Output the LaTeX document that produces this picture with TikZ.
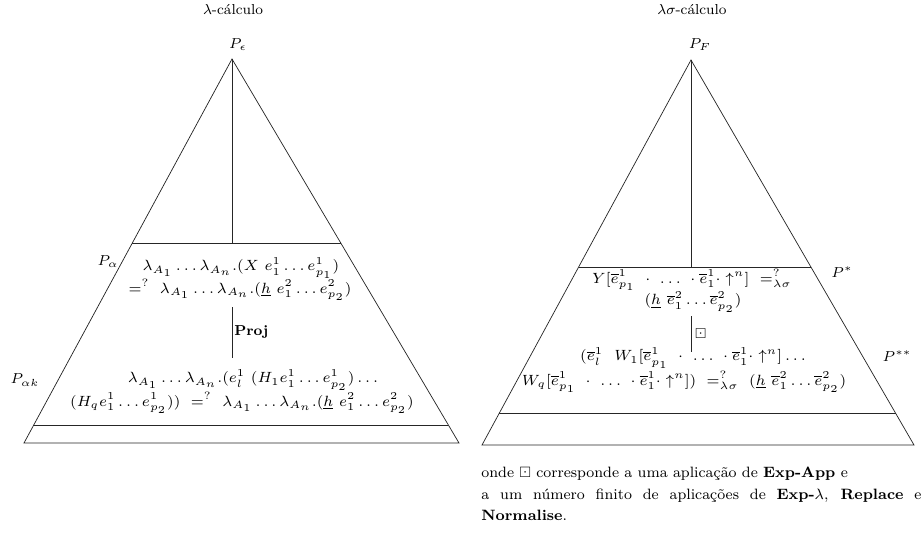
\documentclass[tikz,border=0pt]{standalone}
\usepackage{amsmath}
\usepackage{amssymb}
\usepackage{fontspec}
\usetikzlibrary{positioning, calc}

\begin{document}
\begin{tikzpicture}[
        x=0.0244cm, y=-0.0244cm,
        borda/.style={draw=black!85, line width=0.5pt},
        rotulo/.style={inner sep=1pt, font=\scriptsize, scale=1.4286},
        termo/.style={inner sep=1pt, align=center, font=\scriptsize, scale=1.47},
        titulo/.style={inner sep=1pt, font=\footnotesize, scale=1.25}
    ]
\useasboundingbox (0,0) rectangle (924,543);

% --- Triangulo do lambda-calculo ---
        \node[titulo] (tituloL) at (233,10) {$\lambda$-cálculo};
        \coordinate (topoL) at (232,59);
        \coordinate (esqL) at (24,443);
        \coordinate (dirL) at (459,443);
        \draw[borda] (esqL) -- (topoL) -- (dirL) -- cycle;
        \node[rotulo] (Peps) at (238,45) {$P_\epsilon$};

        \coordinate (alfaE) at ($(topoL)!0.479!(esqL)$);
        \coordinate (alfaD) at ($(topoL)!0.479!(dirL)$);
        \coordinate (fimE) at ($(topoL)!0.953!(esqL)$);
        \coordinate (fimD) at ($(topoL)!0.953!(dirL)$);
        \draw[borda] (alfaE) -- (alfaD);
        \draw[borda] (fimE) -- (fimD);
        \draw[borda] (topoL) -- (topoL |- alfaE);

        \node[rotulo] (Palfa) at (108,262) {$P_\alpha$};
        \node[termo] (alfa1) at (241,268)
            {$\lambda_{A_1}\ldots\lambda_{A_n}.(X\ e^1_1\ldots e^1_{p_1})$};
        \node[termo] (alfa2) at (240,290)
            {$=^{?}\ \lambda_{A_1}\ldots\lambda_{A_n}.(\underline{h}\ e^2_1\ldots e^2_{p_2})$};

        \coordinate (projA) at (232,307);
        \coordinate (projB) at (232,358);
        \draw[borda] (projA) -- node[titulo, right] (proj) {\textbf{Proj}} (projB);

        \node[rotulo] (Palfak) at (25,380) {$P_{\alpha k}$};
        \node[termo] (alfak1) at (253,380)
            {$\lambda_{A_1}\ldots\lambda_{A_n}.(e^1_l\ (H_1 e^1_1\ldots e^1_{p_2})\ldots$};
        \node[termo] (alfak2) at (242,403)
            {$(H_q e^1_1\ldots e^1_{p_2}))\ =^{?}\ \lambda_{A_1}\ldots\lambda_{A_n}.(\underline{h}\ e^2_1\ldots e^2_{p_2})$};

% --- Triangulo do lambda-sigma-calculo ---
        \node[titulo] (tituloR) at (692,10) {$\lambda\sigma$-cálculo};
        \coordinate (topoR) at (691,60);
        \coordinate (esqR) at (482,445);
        \coordinate (dirR) at (914,445);
        \draw[borda] (esqR) -- (topoR) -- (dirR) -- cycle;
        \node[rotulo] (PF) at (700,45) {$P_F$};

        \coordinate (estE) at ($(topoR)!0.538!(esqR)$);
        \coordinate (estD) at ($(topoR)!0.538!(dirR)$);
        \coordinate (baseE) at ($(topoR)!0.917!(esqR)$);
        \coordinate (baseD) at ($(topoR)!0.917!(dirR)$);
        \draw[borda] (estE) -- (estD);
        \draw[borda] (baseE) -- (baseD);
        \draw[borda] (topoR) -- (topoR |- estE);

        \node[rotulo] (Pest) at (842,272) {$P^*$};
        \node[termo] (sigma1) at (692,280)
            {$Y[\overline{e}^1_{p_1}\ \cdot\ \ldots\ \cdot\overline{e}^1_1\cdot\uparrow^n]\ =^{?}_{\lambda\sigma}$};
        \node[termo] (sigma2) at (693,302)
            {$(\underline{h}\ \overline{e}^2_1\ldots\overline{e}^2_{p_2})$};

        \coordinate (passoA) at (691,316);
        \coordinate (passoB) at (691,352);
        \draw[borda] (passoA) -- node[titulo, right, xshift=1pt] (passo) {$\boxdot$} (passoB);

        \node[rotulo] (Pest2) at (897,356) {$P^{**}$};
        \node[termo] (sigma3) at (693,358)
            {$(\overline{e}^1_l\ \ W_1[\overline{e}^1_{p_1}\ \cdot\ \ldots\ \cdot\overline{e}^1_1\cdot\uparrow^n]\ldots$};
        \node[termo] (sigma4) at (684,382)
            {$W_q[\overline{e}^1_{p_1}\ \cdot\ \ldots\ \cdot\overline{e}^1_1\cdot\uparrow^n])\ =^{?}_{\lambda\sigma}\ (\underline{h}\ \overline{e}^2_1\ldots\overline{e}^2_{p_2})$};

% --- Legenda ---
        \node[titulo, scale=1.04, anchor=north west, align=left, inner sep=0pt] (legenda) at (481,467)
            {onde $\boxdot$ corresponde a uma aplicação de \textbf{Exp-App} e\\[2pt]
             \makebox[8.26cm][s]{a um número finito de aplicações de \textbf{Exp-}$\lambda$, \textbf{Replace} e}\\[2pt]
             \textbf{Normalise}.};
\end{tikzpicture}
\end{document}
